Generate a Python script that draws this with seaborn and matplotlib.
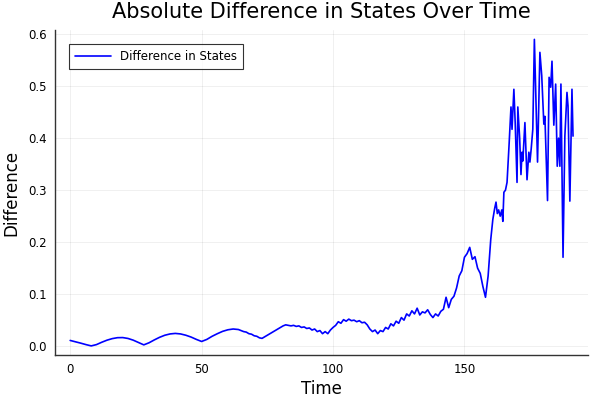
import numpy as np
import pandas as pd
import matplotlib
matplotlib.use("Agg")
import matplotlib.pyplot as plt
import seaborn as sns
from matplotlib.ticker import FormatStrFormatter

# values
time = [
    0, 2, 4, 6, 8, 10, 12, 14, 16, 18, 20, 22, 24, 26, 28, 30, 32, 34, 36, 38,
    40, 42, 44, 46, 48, 50, 52, 54, 56, 58, 60, 62, 64,
    65, 66, 67, 68, 69, 70, 71, 72, 73, 74, 75, 76, 77, 78, 79, 80, 81, 82,
    83, 84, 85, 86, 87, 88, 89, 90, 91, 92, 93, 94, 95, 96, 97, 98, 99, 100,
    101, 102, 103, 104, 105, 106, 107, 108, 109, 110, 111, 112, 113, 114, 115,
    116, 117, 118, 119, 120, 121, 122, 123, 124, 125, 126, 127, 128, 129, 130,
    131, 132, 133, 134, 135, 136, 137, 138, 139, 140, 141, 142, 143, 144, 145,
    146, 147, 148, 149, 150, 151, 152, 153, 154, 155, 156, 157, 158, 159, 160,
    160.8, 161.5, 162.0, 162.5, 163.0, 163.6, 164.2, 164.6, 165.0, 165.6, 166.2,
    167.0, 167.7, 168.1, 168.8, 169.3, 170.0, 170.3, 171.0, 171.5, 171.9, 172.2,
    173.0, 173.8, 174.5, 174.9, 175.4, 176.0, 176.6, 177.8, 178.7, 179.4, 180.2,
    180.6, 181.6, 182.2, 182.8, 183.3, 184.0, 184.7, 185.3, 185.8, 186.3, 186.7,
    187.5, 188.2, 189.0, 189.4, 190.1, 190.9, 191.3,
]
difference = [
    0.011, 0.0085, 0.0058, 0.003, 0.0005, 0.003, 0.0075, 0.0115, 0.0145, 0.0163,
    0.0165, 0.0148, 0.0115, 0.007, 0.0025, 0.0065, 0.012, 0.017, 0.021, 0.0235,
    0.0245, 0.0235, 0.021, 0.0175, 0.013, 0.009, 0.013, 0.019, 0.024, 0.0285,
    0.0315, 0.033, 0.032,
    0.030, 0.028, 0.027, 0.024, 0.023, 0.020, 0.019, 0.016, 0.015, 0.018, 0.021,
    0.024, 0.027, 0.030, 0.033, 0.036, 0.039, 0.041, 0.040, 0.039, 0.040, 0.038,
    0.039, 0.036, 0.037, 0.034, 0.035, 0.031, 0.033, 0.028, 0.030, 0.024, 0.028,
    0.024, 0.031, 0.036, 0.040, 0.047, 0.044, 0.051, 0.048, 0.052, 0.049, 0.050,
    0.047, 0.049, 0.045, 0.046, 0.041, 0.033, 0.028, 0.031, 0.024, 0.030, 0.028,
    0.036, 0.033, 0.043, 0.039, 0.048, 0.044, 0.055, 0.050, 0.062, 0.058, 0.068,
    0.062, 0.073, 0.060, 0.066, 0.064, 0.070, 0.061, 0.055, 0.062, 0.058, 0.067,
    0.071, 0.094, 0.074, 0.090, 0.096, 0.112, 0.135, 0.145, 0.171, 0.178, 0.190,
    0.167, 0.172, 0.150, 0.140, 0.115, 0.094, 0.135, 0.205,
    0.244, 0.265, 0.277, 0.255, 0.262, 0.250, 0.262, 0.240, 0.296, 0.300, 0.315,
    0.390, 0.460, 0.417, 0.494, 0.430, 0.315, 0.460, 0.400, 0.330, 0.373, 0.356,
    0.430, 0.320, 0.373, 0.354, 0.380, 0.417, 0.590, 0.354, 0.565, 0.520, 0.427,
    0.442, 0.280, 0.517, 0.498, 0.548, 0.425, 0.504, 0.346, 0.400, 0.346, 0.504,
    0.171, 0.404, 0.488, 0.462, 0.279, 0.494, 0.404,
]

df = pd.DataFrame({"Time": time, "Difference": difference})

sns.set_theme(style="white")
plt.rcParams["font.family"] = ["DejaVu Sans"]
plt.rcParams["text.color"] = "black"
plt.rcParams["axes.labelcolor"] = "black"

fig = plt.figure(figsize=(6, 4), dpi=100)
ax = fig.add_axes([0.092, 0.1125, 0.888, 0.8125])

sns.lineplot(data=df, x="Time", y="Difference", sort=False, estimator=None,
             color="#0000ff", linewidth=1.2, label="Difference in States", ax=ax)

ax.set_xlim(-5.7, 197)
ax.set_ylim(-0.017, 0.608)
ax.set_xticks([0, 50, 100, 150])
ax.set_yticks([0.0, 0.1, 0.2, 0.3, 0.4, 0.5, 0.6])
ax.yaxis.set_major_formatter(FormatStrFormatter("%.1f"))
ax.grid(True, color="black", alpha=0.07, linewidth=0.6)
ax.tick_params(direction="in", length=4, width=0.8, labelsize=8.5, colors="black",
               pad=6)
for side in ["top", "right"]:
    ax.spines[side].set_visible(False)
for side in ["left", "bottom"]:
    ax.spines[side].set_color("#333333")
    ax.spines[side].set_linewidth(1.0)

ax.set_title("Absolute Difference in States Over Time", fontsize=15, pad=9,
             color="black")
ax.set_xlabel("Time", fontsize=12, labelpad=3)
ax.set_ylabel("Difference", fontsize=12, labelpad=6)

leg = ax.legend(loc="upper left", fontsize=8.5, frameon=True, fancybox=False,
                borderpad=0.5, handlelength=3.0, borderaxespad=1.2)
leg.get_frame().set_edgecolor("black")
leg.get_frame().set_linewidth(0.8)

fig.savefig("out.png", dpi=100)
